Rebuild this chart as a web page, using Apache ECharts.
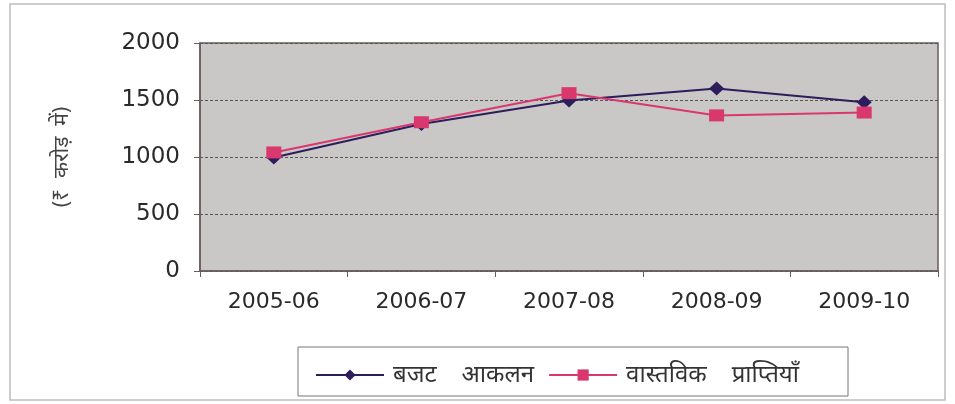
<!DOCTYPE html>
<html><head><meta charset="utf-8">
<script src="https://cdn.jsdelivr.net/npm/echarts@6/dist/echarts.min.js"></script>
<style>html,body{margin:0;padding:0;background:#fff}#c{width:955px;height:404px}</style>
</head><body><div id="c"></div>
<script>
const categories = ['2005-06','2006-07','2007-08','2008-09','2009-10'];
const budgetEstimate = [995, 1290, 1495, 1600, 1480];
const actualReceipts = [1040, 1305, 1560, 1365, 1390];
const yTicks = [0, 500, 1000, 1500, 2000];
const seriesNames = ['बजट    आकलन', 'वास्तविक    प्राप्तियाँ'];
const yName = '(₹  करोड़  में)';

const chart = echarts.init(document.getElementById('c'));
chart.setOption({
  animation: false,
  backgroundColor: '#fff',
  graphic: [
    {type:'rect', shape:{x:10,y:4,width:935,height:396}, style:{fill:'none', stroke:'#bdbdbd', lineWidth:1.5}, z:-1},
    {type:'rect', shape:{x:298,y:347,width:550,height:49}, style:{fill:'#fff', stroke:'#777', lineWidth:1}, z:0}
  ],
  grid: {left:200, right:17, top:43, bottom:133, show:true, backgroundColor:'#c9c8c6', borderColor:'#6a5c5c', borderWidth:1.5},
  legend: {
    top: 358, left: 310, itemGap: 14, itemWidth: 68, itemHeight: 14,
    textStyle: {fontFamily:'Noto Sans', fontSize:24, color:'#333', padding:[0,0,0,4]},
    data: [{name:seriesNames[0]}, {name:seriesNames[1]}], z: 5
  },
  xAxis: {
    type: 'category', data: categories, boundaryGap: true,
    axisLine: {show: true, lineStyle: {color:'#6a5c5c', width:1.5}},
    axisTick: {show: true, length: 6, lineStyle:{color:'#6a5c5c'}},
    axisLabel: {fontFamily:'DejaVu Sans', fontSize:22, color:'#2a2a2a', margin:20}
  },
  yAxis: {
    type: 'value', min: 0, max: 2000, interval: 500,
    name: yName, nameLocation: 'middle', nameGap: 127, nameRotate: 90,
    nameTextStyle: {fontFamily:'Noto Sans', fontSize:21, color:'#444'},
    axisLine: {show:true, lineStyle:{color:'#6a5c5c', width:1.5}},
    axisTick: {show:true, length:6, inside:false, lineStyle:{color:'#6a5c5c'}},
    axisLabel: {fontFamily:'DejaVu Sans', fontSize:23, color:'#2a2a2a', margin:20,
      formatter: v => yTicks.includes(v) ? String(v) : ''},
    splitLine: {show:true, lineStyle:{color:'#555', width:1, type:[3,2]}}
  },
  series: [
    {name: seriesNames[0], type:'line', data: budgetEstimate, symbol:'diamond', symbolSize:[15,14],
     lineStyle:{color:'#2d1d5c', width:2}, itemStyle:{color:'#2d1d5c'}, z:3},
    {name: seriesNames[1], type:'line', data: actualReceipts, symbol:'rect', symbolSize:[15,12],
     lineStyle:{color:'#d8386e', width:2}, itemStyle:{color:'#d8386e'}, z:4}
  ]
});
</script></body></html>
